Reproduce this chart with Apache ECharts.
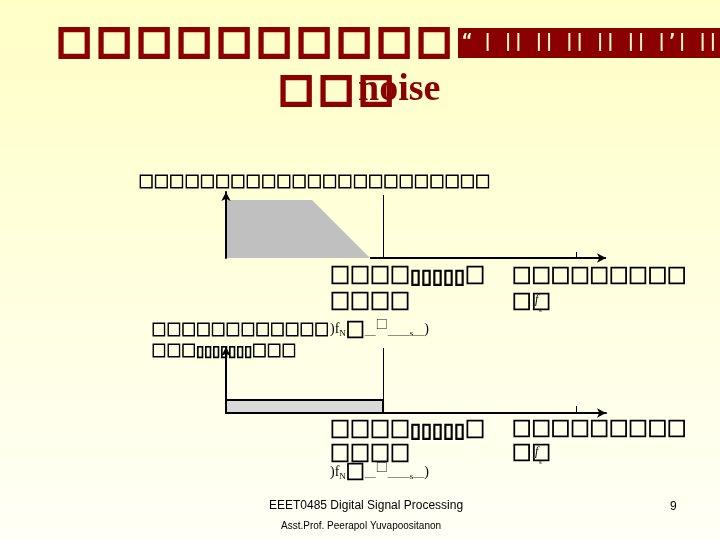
<!DOCTYPE html>
<html>
<head>
<meta charset="utf-8">
<script src="https://cdn.jsdelivr.net/npm/echarts@6/dist/echarts.min.js"></script>
<style>
html, body { margin: 0; padding: 0; }
#main { width: 720px; height: 540px; }
</style>
</head>
<body>
<div id="main"></div>
<script>
// frequency axis, in units of fN
var fN = 1.0;
var fs = 2.23;
var xMax = 2.42;

// spectrum before filtering (sloping band edge)
var spectrumX1 = [0, 0.548, 0.917];
var spectrumY1 = [0.88, 0.88, 0];
// noise floor after filtering (cut at fN)
var spectrumX2 = [0, 1.0, 1.0];
var spectrumY2 = [0.197, 0.197, 0];

// texts (the Thai glyphs come out as empty boxes)
var titleLine1 = '□□□□□□□□□□';
var titleBar = '“ | || || || || || |’| ||';
var titleLine2 = '□□□';
var titleWord = 'noise';
var subtitle = '□□□□□□□□□□□□□□□□□□□□□□□';
var labelA = '□□□□▯▯▯▯▯□';
var labelB = '□□□□';
var labelR1 = '□□□□□□□□□';
var labelR2 = '□□';
var labelL1 = '□□□□□□□□□□□□';
var labelL2 = '□□□▯▯▯▯▯▯▯□□□';
var footer1 = 'EEET0485 Digital Signal Processing';
var footer2 = 'Asst.Prof. Peerapol Yuvapoositanon';
var pageNo = '9';

function pairs(xs, ys) {
	var out = [];
	for (var i = 0; i < xs.length; i++) {
		out.push([xs[i], ys[i]]);
	}
	return out;
}

var BOX = '"Noto Sans CJK SC"';

function txt(x, y, text, font, color, extra) {
	var style = {
		text: text,
		x: x,
		y: y,
		font: font,
		fill: color || '#000',
		verticalAlign: 'middle'
	};
	if (extra) {
		for (var k in extra) {
			style[k] = extra[k];
		}
	}
	return {type: 'text', z: 20, style: style};
}

// boxes drawn a little heavier, like the tofu in the slide
function boxes(x, y, text, size, weight, color) {
	return txt(x, y, text, size + 'px ' + BOX, color || '#000', {
		stroke: color || '#000',
		lineWidth: weight
	});
}

function spaced(s) {
	return s.split('').join('\u2006');
}

function eqText(x, y) {
	return txt(x, y, ')f{n|N}{b|□}{u|＿}{q|□}{u|＿＿}{n|s}{u|＿})', '14px "Liberation Serif"', '#000', {
		rich: {
			n: {font: '9px "Liberation Serif"', padding: [9, 0, 0, 0]},
			b: {font: '19px ' + BOX, stroke: '#000', lineWidth: 1},
			q: {font: '12px ' + BOX, padding: [0, 0, 10, 0]},
			u: {font: '11px ' + BOX}
		}
	});
}

var chart = echarts.init(document.getElementById('main'));

var axisArrow = {
	show: true,
	symbol: ['none', 'arrow'],
	symbolSize: [7, 9],
	lineStyle: {color: '#000', width: 2}
};

chart.setOption({
	animation: false,
	grid: [
		{left: 226, top: 192, width: 380, height: 66},
		{left: 226, top: 347, width: 380, height: 66}
	],
	xAxis: [
		{
			gridIndex: 0, type: 'value', min: 0, max: xMax,
			axisLine: {show: false}, axisTick: {show: false}, axisLabel: {show: false}, splitLine: {show: false}
		},
		{
			gridIndex: 1, type: 'value', min: 0, max: xMax, z: 5,
			axisLine: axisArrow, axisTick: {show: false}, axisLabel: {show: false}, splitLine: {show: false}
		}
	],
	yAxis: [
		{
			gridIndex: 0, type: 'value', min: 0, max: 1, z: 5,
			axisLine: axisArrow, axisTick: {show: false}, axisLabel: {show: false}, splitLine: {show: false}
		},
		{
			gridIndex: 1, type: 'value', min: 0, max: 1, z: 5,
			axisLine: axisArrow, axisTick: {show: false}, axisLabel: {show: false}, splitLine: {show: false}
		}
	],
	series: [
		{
			type: 'line',
			xAxisIndex: 0,
			yAxisIndex: 0,
			clip: false,
			symbol: 'none',
			silent: true,
			lineStyle: {width: 0, color: '#C0C0C0'},
			areaStyle: {color: '#C0C0C0', opacity: 1},
			data: pairs(spectrumX1, spectrumY1),
			markLine: {
				silent: true,
				symbol: 'none',
				label: {show: false},
				lineStyle: {color: '#000', width: 1, type: 'solid'},
				data: [
					[{coord: [fN, 0.955]}, {coord: [fN, 0]}],
					[{coord: [fs, 0.09]}, {coord: [fs, 0]}],
					[
						{coord: [spectrumX1[2], 0], symbol: 'none', lineStyle: {width: 2}},
						{coord: [xMax, 0], symbol: 'arrow', symbolSize: [7, 9], lineStyle: {width: 2}}
					]
				]
			}
		},
		{
			type: 'line',
			xAxisIndex: 1,
			yAxisIndex: 1,
			clip: false,
			symbol: 'none',
			silent: true,
			lineStyle: {width: 2, color: '#000'},
			areaStyle: {color: '#D9D9D9', opacity: 1},
			data: pairs(spectrumX2, spectrumY2),
			markLine: {
				silent: true,
				symbol: 'none',
				label: {show: false},
				lineStyle: {color: '#000', width: 1, type: 'solid'},
				data: [
					[{coord: [fN, 0.985]}, {coord: [fN, 0]}],
					[{coord: [fs, 0.106]}, {coord: [fs, 0]}]
				]
			}
		}
	],
	graphic: [
		{
			type: 'rect', z: -10, silent: true,
			shape: {x: 0, y: 0, width: 720, height: 540},
			style: {
				fill: new echarts.graphic.LinearGradient(0, 0, 0, 1, [
					{offset: 0, color: '#FFFFC6'},
					{offset: 1, color: '#FFFFF6'}
				])
			}
		},
		// title
		boxes(57, 42.5, spaced(titleLine1), 34.3, 4, '#8B0000'),
		{type: 'rect', z: 19, shape: {x: 458, y: 28, width: 262, height: 30}, style: {fill: '#8B0000'}},
		txt(462, 43, titleBar, 'bold 17px "DejaVu Sans Mono"', '#FFFFCC'),
		boxes(279, 91, spaced(titleLine2), 34.3, 4, '#8B0000'),
		txt(358, 90, titleWord, 'bold 38px "Liberation Serif"', '#8B0000'),
		boxes(138.5, 181, subtitle, 15.3, 0.8),

		// labels under the first spectrum
		boxes(330, 275.5, labelA, 20, 1),
		boxes(330, 301.5, labelB, 20, 1),
		boxes(512, 275.5, labelR1, 19.4, 1),
		boxes(512, 301.5, labelR2, 19.4, 1),
		txt(535, 300, 'f', 'italic 12px "Liberation Serif"'),
		txt(539, 310, 's', '7px "Liberation Serif"'),
		boxes(151.6, 329.5, labelL1, 14.8, 0.8),
		eqText(330, 329.5),
		boxes(151.6, 350.5, labelL2, 14.8, 0.8),

		// labels under the second spectrum
		boxes(330, 429, labelA, 20, 1),
		boxes(330, 453, labelB, 20, 1),
		boxes(512, 429, labelR1, 19.4, 1),
		boxes(512, 453, labelR2, 19.4, 1),
		txt(535, 452, 'f', 'italic 12px "Liberation Serif"'),
		txt(539, 462, 's', '7px "Liberation Serif"'),
		eqText(330, 472),

		// footer
		txt(269, 506, footer1, '12px "Liberation Sans"', '#000'),
		txt(281, 526, footer2, '10px "Liberation Sans"', '#000'),
		txt(670, 507, pageNo, '12px "Liberation Sans"', '#000')
	]
});
</script>
</body>
</html>
